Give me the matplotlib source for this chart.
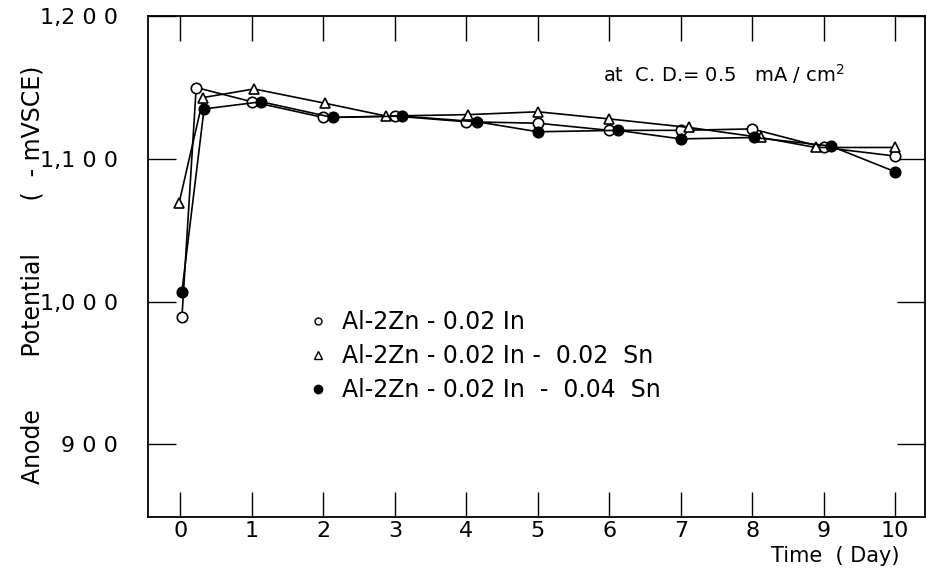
#!/usr/bin/env python
# anode potential vs. time for three Al-Zn-In alloys
import numpy as np
import matplotlib.pyplot as plt

fontsize = 15

# days of immersion (points are nudged a little so overlapping markers stay visible)
days_in = [0.02, 0.22, 1.0, 2.0, 3.0, 4.0, 5.0, 6.0, 7.0, 8.0, 9.0, 10.0]
days_sn2 = [-0.02, 0.32, 1.03, 2.02, 2.88, 4.02, 5.0, 6.0, 7.12, 8.12, 8.89, 10.0]
days_sn4 = [0.02, 0.33, 1.13, 2.13, 3.1, 4.15, 5.0, 6.12, 7.0, 8.02, 9.1, 10.0]

# potential (-mV SCE)
pot_in = [989, 1150, 1140, 1129, 1130, 1126, 1125, 1120, 1120, 1121, 1108, 1102]
pot_sn2 = [1069, 1143, 1149, 1139, 1130, 1131, 1133, 1128, 1122, 1115, 1108, 1108]
pot_sn4 = [1007, 1135, 1140, 1129, 1130, 1126, 1119, 1120, 1114, 1115, 1109, 1091]

labels = ['Al-2Zn - 0.02 In',
          'Al-2Zn - 0.02 In -  0.02  Sn',
          'Al-2Zn - 0.02 In  -  0.04  Sn']

xticks = np.arange(0, 11)
yticks = [900, 1000, 1100, 1200]
yticklabels = ['9 0 0', '1,0 0 0', '1,1 0 0', '1,2 0 0']

fig = plt.figure(figsize=(9.27, 5.76), dpi=100)
ax = fig.add_axes([0.160, 0.102, 0.838, 0.870])

lw = 1.2
ax.plot(days_in, pot_in, color='black', lw=lw, marker='o', ms=7.5,
        mfc='white', mec='black', mew=1.2, zorder=3)
ax.plot(days_sn2, pot_sn2, color='black', lw=lw, marker='^', ms=7.5,
        mfc='white', mec='black', mew=1.2, zorder=3)
ax.plot(days_sn4, pot_sn4, color='black', lw=lw, marker='o', ms=7.5,
        mfc='black', mec='black', mew=1.2, zorder=3)

ax.set_xlim(-0.45, 10.42)
ax.set_ylim(849, 1200)

ax.set_xticks(xticks)
ax.set_xticklabels([str(d) for d in xticks])
ax.set_yticks(yticks)
ax.set_yticklabels(yticklabels)
ax.tick_params(axis='both', direction='in', top=True, right=True,
               labelsize=fontsize, width=1.0, color='black')
ax.tick_params(axis='x', length=18, pad=3, labelsize=16)
ax.tick_params(axis='y', length=20, pad=22, labelsize=16)
for s in ax.spines.values():
    s.set_linewidth(1.3)

fig.text(0.035, 0.523, 'Anode       Potential       (  - mVSCE)', rotation=90,
         ha='center', va='center', fontsize=17)
fig.text(0.97, 0.035, 'Time  ( Day)', ha='right', va='center',
         fontsize=fontsize)
ax.text(0.585, 0.885, 'at  C. D.= 0.5   mA / cm$^2$', transform=ax.transAxes,
        fontsize=14, ha='left', va='center')

handles = [
    plt.Line2D([], [], ls='none', marker='o', ms=5, mfc='white', mec='black'),
    plt.Line2D([], [], ls='none', marker='^', ms=6, mfc='white', mec='black'),
    plt.Line2D([], [], ls='none', marker='o', ms=6, mfc='black', mec='black'),
]
ax.legend(handles, labels, loc='upper left', bbox_to_anchor=(0.176, 0.455),
          frameon=False, fontsize=17, labelspacing=0.42,
          handletextpad=0.5, handlelength=1.0)

fig.savefig('out.png', dpi=100)
